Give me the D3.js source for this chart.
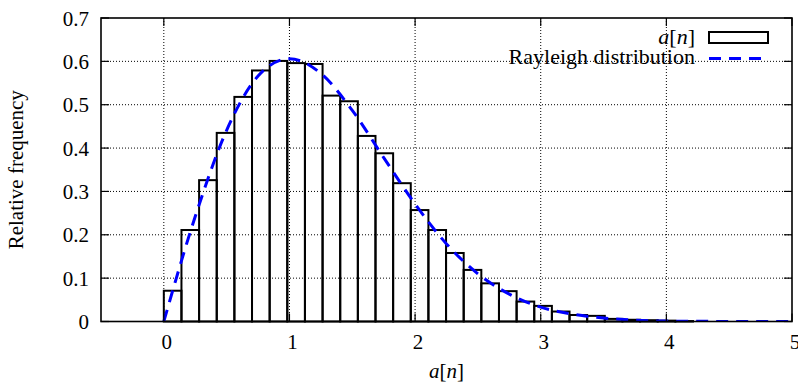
<!DOCTYPE html>
<html>
<head>
<meta charset="utf-8">
<script src="https://cdn.jsdelivr.net/npm/d3@7/dist/d3.min.js"></script>
<style>
  body { margin: 0; background: #fff; }
  text { font-family: "Liberation Serif", "DejaVu Serif", serif; fill: #000; }
</style>
</head>
<body>
<div id="chart"></div>
<script>
var svgWidth = 798;
var svgHeight = 383;

var margin = { top: 18, right: 6, bottom: 61.5, left: 101 };

var width = svgWidth - margin.left - margin.right;
var height = svgHeight - margin.top - margin.bottom;

// histogram of a[n], bin width
var binWidth = 0.1404;
var binFreq = [0.071, 0.211, 0.326, 0.435, 0.518, 0.579, 0.601, 0.596, 0.594, 0.521,
  0.508, 0.428, 0.388, 0.319, 0.257, 0.211, 0.158, 0.119, 0.088, 0.07,
  0.046, 0.036, 0.023, 0.015, 0.013, 0.006, 0.004, 0.003, 0.002, 0.001];

// Rayleigh curve, points
var curveX = [0, 0.25, 0.5, 0.75, 1, 1.25, 1.5, 1.75, 2, 2.25, 2.5, 2.75, 3, 3.25, 3.5, 3.75, 4, 4.5, 5];
var curveY = [0, 0.242, 0.441, 0.566, 0.606, 0.572, 0.487, 0.378, 0.271, 0.179, 0.11, 0.063, 0.033, 0.017, 0.008, 0.003, 0.001, 0.0002, 0];

var xTicks = [0, 1, 2, 3, 4, 5];
var yTicks = [0, 0.1, 0.2, 0.3, 0.4, 0.5, 0.6, 0.7];

var svg = d3.select("#chart")
  .append("svg")
  .attr("width", svgWidth)
  .attr("height", svgHeight);

var chartGroup = svg.append("g")
  .attr("transform", `translate(${margin.left}, ${margin.top})`);

var x = d3.scaleLinear().domain([-0.5, 5]).range([0, width]);
var y = d3.scaleLinear().domain([0, 0.7]).range([height, 0]);

svg.append("clipPath").attr("id", "clip")
  .append("rect").attr("width", width).attr("height", height);

// bars (unfilled, gnuplot boxes)
chartGroup.selectAll(".bar")
  .data(binFreq)
  .enter()
  .append("rect")
  .attr("class", "bar")
  .attr("x", (d, i) => x(i * binWidth))
  .attr("y", d => y(d))
  .attr("width", x(binWidth) - x(0))
  .attr("height", d => height - y(d))
  .attr("fill", "none")
  .attr("stroke", "#000")
  .attr("stroke-width", 2);

// grid
var grid = chartGroup.append("g");
grid.selectAll(".gx")
  .data(xTicks.filter(d => d < 5))
  .enter().append("line")
  .attr("x1", d => x(d)).attr("x2", d => x(d))
  .attr("y1", 0).attr("y2", height)
  .attr("stroke", "#000").attr("stroke-width", 1)
  .attr("stroke-dasharray", "1,2");
grid.selectAll(".gy")
  .data(yTicks.filter(d => d > 0 && d < 0.7))
  .enter().append("line")
  .attr("x1", 0).attr("x2", width)
  .attr("y1", d => y(d)).attr("y2", d => y(d))
  .attr("stroke", "#000").attr("stroke-width", 1)
  .attr("stroke-dasharray", "1,2");

// Rayleigh curve
var line = d3.line()
  .x(d => x(d[0]))
  .y(d => y(d[1]))
  .curve(d3.curveMonotoneX);

chartGroup.append("path")
  .datum(curveX.map((v, i) => [v, curveY[i]]))
  .attr("clip-path", "url(#clip)")
  .attr("d", line)
  .attr("fill", "none")
  .attr("stroke", "#0000ff")
  .attr("stroke-width", 3)
  .attr("stroke-dasharray", "12,8");

// axes with inward ticks on all sides
var tickLen = 8;
var axes = chartGroup.append("g");
yTicks.forEach(function(t) {
  axes.append("line").attr("x1", 0).attr("x2", tickLen)
    .attr("y1", y(t)).attr("y2", y(t)).attr("stroke", "#000").attr("stroke-width", 1.2);
  axes.append("line").attr("x1", width).attr("x2", width - tickLen)
    .attr("y1", y(t)).attr("y2", y(t)).attr("stroke", "#000").attr("stroke-width", 1.2);
  axes.append("text")
    .attr("x", -12).attr("y", y(t) + 7.5)
    .attr("text-anchor", "end")
    .attr("font-size", "21px")
    .text(t === 0 ? "0" : d3.format(".1f")(t));
});
xTicks.forEach(function(t) {
  axes.append("line").attr("x1", x(t)).attr("x2", x(t))
    .attr("y1", height).attr("y2", height - tickLen).attr("stroke", "#000").attr("stroke-width", 1.2);
  axes.append("line").attr("x1", x(t)).attr("x2", x(t))
    .attr("y1", 0).attr("y2", tickLen).attr("stroke", "#000").attr("stroke-width", 1.2);
  axes.append("text")
    .attr("x", x(t) + 3).attr("y", height + 27.5)
    .attr("text-anchor", "middle")
    .attr("font-size", "21px")
    .text(t);
});

// frame
chartGroup.append("rect")
  .attr("width", width).attr("height", height)
  .attr("fill", "none").attr("stroke", "#000").attr("stroke-width", 1.6);

// axis titles
function anLabel(sel) {
  sel.append("tspan").attr("font-style", "italic").text("a");
  sel.append("tspan").text("[");
  sel.append("tspan").attr("font-style", "italic").text("n");
  sel.append("tspan").text("]");
}

var xTitle = chartGroup.append("text")
  .attr("x", width / 2).attr("y", height + 56)
  .attr("text-anchor", "middle")
  .attr("font-size", "21px");
anLabel(xTitle);

chartGroup.append("text")
  .attr("transform", "rotate(-90)")
  .attr("x", 0 - height / 2)
  .attr("y", 23 - margin.left)
  .attr("text-anchor", "middle")
  .attr("font-size", "21px")
  .text("Relative frequency");

// legend
var legend = chartGroup.append("g");
var leg1 = legend.append("text")
  .attr("x", 695 - margin.left).attr("y", 44 - margin.top)
  .attr("text-anchor", "end").attr("font-size", "22px");
anLabel(leg1);
legend.append("rect")
  .attr("x", 709 - margin.left).attr("y", 32 - margin.top)
  .attr("width", 59).attr("height", 11)
  .attr("fill", "none").attr("stroke", "#000").attr("stroke-width", 2);

legend.append("text")
  .attr("x", 695 - margin.left).attr("y", 64 - margin.top)
  .attr("text-anchor", "end").attr("font-size", "22px")
  .text("Rayleigh distribution");
legend.append("line")
  .attr("x1", 709 - margin.left).attr("x2", 768 - margin.left)
  .attr("y1", 58.5 - margin.top).attr("y2", 58.5 - margin.top)
  .attr("stroke", "#0000ff").attr("stroke-width", 3)
  .attr("stroke-dasharray", "12,8");
</script>
</body>
</html>
